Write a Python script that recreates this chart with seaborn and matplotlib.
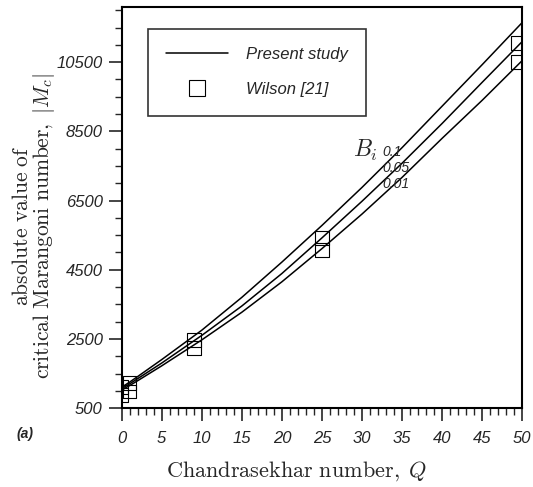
import numpy as np
import pandas as pd
import matplotlib
matplotlib.use("Agg")
import matplotlib.pyplot as plt
from matplotlib.lines import Line2D
from matplotlib.ticker import MultipleLocator
import seaborn as sns

# Present study: critical Marangoni number vs Chandrasekhar number for three Biot numbers
q_curve = [0, 1, 2, 5, 10, 15, 20, 25, 30, 35, 40, 45, 50]
mc_bi_010 = [1100, 1250, 1410, 1900, 2750, 3700, 4720, 5780, 6880, 8030, 9230, 10430, 11650]
mc_bi_005 = [1060, 1200, 1350, 1800, 2600, 3450, 4390, 5420, 6480, 7580, 8730, 9920, 11100]
mc_bi_001 = [1020, 1150, 1290, 1720, 2470, 3270, 4150, 5110, 6110, 7170, 8300, 9400, 10550]
biot_labels = ["0.1", "0.05", "0.01"]

# Wilson [21] reference values
q_wilson = [0, 0, 1, 1, 9, 9, 25, 25, 49.5, 49.5]
mc_wilson = [1100, 880, 1220, 980, 2465, 2250, 5430, 5070, 11050, 10500]

x_ticks = [0, 5, 10, 15, 20, 25, 30, 35, 40, 45, 50]
y_ticks = [500, 2500, 4500, 6500, 8500, 10500]

curves = pd.DataFrame({
    "Q": q_curve * 3,
    "Mc": mc_bi_010 + mc_bi_005 + mc_bi_001,
    "Bi": [biot_labels[0]] * len(q_curve) + [biot_labels[1]] * len(q_curve) + [biot_labels[2]] * len(q_curve),
})
wilson = pd.DataFrame({"Q": q_wilson, "Mc": mc_wilson})

sns.set_style("ticks")
plt.rcParams["mathtext.fontset"] = "cm"
plt.rcParams["axes.formatter.use_mathtext"] = True

fig = plt.figure(figsize=(5.33, 4.87), dpi=100)
ax = fig.add_axes([0.228, 0.162, 0.752, 0.824])

sns.lineplot(data=curves, x="Q", y="Mc", hue="Bi", palette=["black"] * 3,
             linewidth=1.1, legend=False, ax=ax, sort=True)
sns.scatterplot(data=wilson, x="Q", y="Mc", marker="s", s=100,
                facecolors="none", edgecolor="black", linewidth=0.8,
                legend=False, ax=ax, zorder=3)

ax.set_xlim(0, 50)
ax.set_ylim(500, 12100)
ax.set_xticks(x_ticks)
ax.set_yticks(y_ticks)
ax.xaxis.set_minor_locator(MultipleLocator(1))
ax.yaxis.set_minor_locator(MultipleLocator(500))
ax.tick_params(which="major", direction="out", length=9.5, width=1.2, top=False, right=False)
ax.tick_params(which="minor", direction="out", length=5, width=1.0, top=False, right=False)
ax.tick_params(axis="x", which="major", pad=7)
ax.tick_params(axis="y", which="major", pad=4)
ax.set_xticklabels([str(t) for t in x_ticks], fontfamily="Liberation Sans", fontstyle="italic", fontsize=12)
ax.set_yticklabels([str(t) for t in y_ticks], fontfamily="Liberation Sans", fontstyle="italic", fontsize=12)
for sp in ax.spines.values():
    sp.set_visible(True)
    sp.set_linewidth(1.5)
    sp.set_color("black")

ax.set_xlabel(r"$\mathrm{Chandrasekhar\ number,}\;Q$", fontsize=16)
ax.xaxis.set_label_coords(0.437, -0.128)
ax.set_ylabel("$\\mathrm{absolute\\ value\\ of}$\n$\\mathrm{critical\\ Marangoni\\ number,}\\ |M_c|$",
              fontsize=15.5, linespacing=0.95)
ax.yaxis.set_label_coords(-0.16, 0.455)

fig.text(0.047, 0.108, "(a)", fontfamily="Liberation Sans", fontstyle="italic",
         fontweight="bold", fontsize=10, ha="center", va="center")

# Biot number annotations along the curves
ax.text(30.4, 7960, r"$B_i$", fontsize=17, ha="center", va="center")
for q, mc, lab in zip([33.8, 34.2, 34.2], [7900, 7440, 6970], biot_labels):
    ax.text(q, mc, lab, fontfamily="Liberation Sans", fontstyle="italic",
            fontsize=10, ha="center", va="center")

handles = [
    Line2D([], [], color="black", linewidth=1.1),
    Line2D([], [], color="black", marker="s", markersize=12, markerfacecolor="none",
           markeredgewidth=0.8, linestyle="none"),
]
leg = ax.legend(handles, ["Present study", "Wilson [21]"], loc="upper left",
                bbox_to_anchor=(0.065, 0.945), frameon=True, fancybox=False,
                handlelength=3.7, handletextpad=1.1, borderpad=1.1, labelspacing=1.2,
                borderaxespad=0.0,
                prop={"family": "Liberation Sans", "style": "italic", "size": 12})
leg.get_frame().set_edgecolor("black")
leg.get_frame().set_linewidth(1.2)

fig.savefig("out.png", dpi=100)
